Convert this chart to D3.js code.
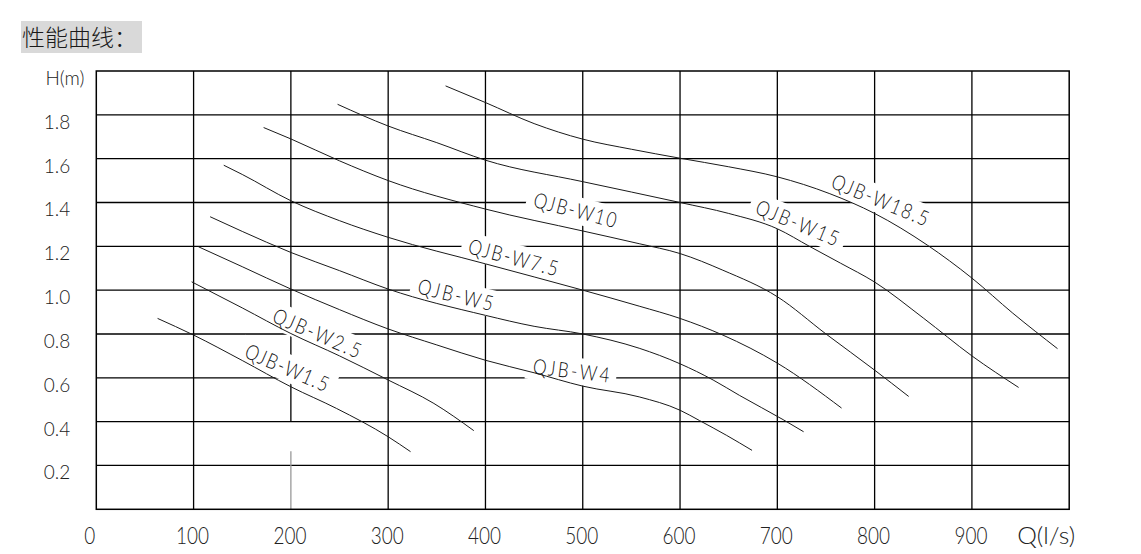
<!DOCTYPE html>
<html><head><meta charset="utf-8">
<script src="https://cdn.jsdelivr.net/npm/d3@7/dist/d3.min.js"></script>
<style>body{margin:0;background:#fff;}svg{display:block;}</style>
</head><body>
<svg id="chart" width="1141" height="554"></svg>
<script>
// ---------- data ----------
const title = "性能曲线：";
const models = ["QJB-W1.5","QJB-W2.5","QJB-W4","QJB-W5","QJB-W7.5","QJB-W10","QJB-W15","QJB-W18.5"];

const qW1_5  = [63,100,150,200,247,300,323];
const hW1_5  = [0.871,0.795,0.679,0.559,0.46,0.331,0.263];
const qW2_5  = [98,150,200,250,300,347,388];
const hW2_5  = [1.038,0.919,0.802,0.70,0.59,0.483,0.359];
const qW4    = [105,150,200,250,300,350,400,450,500,558,600,620,648,674];
const hW4    = [1.198,1.107,1.005,0.911,0.823,0.75,0.68,0.623,0.562,0.513,0.452,0.405,0.337,0.269];
const qW5    = [117,150,200,250,300,400,450,500,558,600,634,661,706,727];
const hW5    = [1.335,1.268,1.172,1.089,1.005,0.885,0.835,0.80,0.735,0.664,0.59,0.52,0.409,0.354];
const qW7_5  = [131,150,200,250,300,400,500,558,600,644,700,766];
const hW7_5  = [1.57,1.528,1.408,1.317,1.241,1.12,1.0,0.927,0.871,0.795,0.667,0.462];
const qW10   = [172,200,250,300,400,500,558,600,644,700,750,800,835];
const hW10   = [1.742,1.69,1.59,1.50,1.37,1.27,1.212,1.167,1.091,0.97,0.80,0.635,0.515];
const qW15   = [248,300,350,400,500,600,650,700,733,765,800,850,900,948];
const hW15   = [1.848,1.749,1.673,1.593,1.495,1.40,1.35,1.28,1.20,1.123,1.037,0.873,0.70,0.556];
const qW18_5 = [359,400,450,500,550,600,650,700,754,800,854,900,942,988];
const hW18_5 = [1.932,1.856,1.76,1.689,1.643,1.602,1.563,1.517,1.44,1.35,1.206,1.055,0.895,0.733];

const seriesQ = [qW1_5,qW2_5,qW4,qW5,qW7_5,qW10,qW15,qW18_5];
const seriesH = [hW1_5,hW2_5,hW4,hW5,hW7_5,hW10,hW15,hW18_5];

const xTickValues = [0,100,200,300,400,500,600,700,800,900];
const yTickValues = [0.2,0.4,0.6,0.8,1.0,1.2,1.4,1.6,1.8];
const xTitle = "Q(l/s)";
const yTitle = "H(m)";

// label anchors along the curves (data units) and their slant
const labelQ     = [151,179.5,448,329,381,448,676,754];
const labelH     = [0.696,0.858,0.62,0.987,1.169,1.382,1.352,1.470];
const labelAngle = [23.5,23.5,6.9,13.7,14.6,14.7,22.4,22.5];
const labelLen   = [89,94,77,77,92,85,88,103];

// ---------- layout ----------
const svg = d3.select("#chart");
const x = d3.scaleLinear().domain([0,1000]).range([96.3,1069.2]);
const y = d3.scaleLinear().domain([0,2]).range([509.3,71]);
const FONT = "Lato, Roboto, 'DejaVu Sans', sans-serif";
const NARROW = 0.82;

// title
svg.append("rect").attr("x",21).attr("y",21).attr("width",121).attr("height",32).attr("fill","#d9d9d9");
svg.append("text").attr("x",22).attr("y",46).text(title)
  .attr("font-family","'Noto Sans CJK SC', sans-serif").attr("font-weight",300)
  .attr("font-size",23).attr("fill","#1a1a1a");

// grid
const grid = svg.append("g").attr("stroke","#000").attr("stroke-width",1.3);
yTickValues.forEach(v=>{
  grid.append("line").attr("x1",x(0)).attr("x2",x(1000)).attr("y1",y(v)).attr("y2",y(v));
});
xTickValues.filter(v=>v>0).forEach(v=>{
  if (v===200){
    grid.append("line").attr("x1",x(v)).attr("x2",x(v)).attr("y1",y(2)).attr("y2",y(0.4));
    grid.append("line").attr("x1",x(v)).attr("x2",x(v)).attr("y1",y(0.265)).attr("y2",y(0)).attr("stroke","#999");
  } else {
    grid.append("line").attr("x1",x(v)).attr("x2",x(v)).attr("y1",y(2)).attr("y2",y(0));
  }
});
svg.append("rect").attr("x",x(0)).attr("y",y(2)).attr("width",x(1000)-x(0)).attr("height",y(0)-y(2))
  .attr("fill","none").attr("stroke","#000").attr("stroke-width",1.5);

// label masks (cut the grid around each label)
const labelG = models.map((m,i)=>({m,i}));
const place = d=>`translate(${x(labelQ[d.i])},${y(labelH[d.i])}) rotate(${labelAngle[d.i]})`;
svg.append("g").selectAll("rect").data(labelG).join("rect")
  .attr("transform",place)
  .attr("x",-7).attr("y",-21).attr("width",d=>labelLen[d.i]+14).attr("height",27)
  .attr("fill","#fff");

// curves
const line = d3.line().x(d=>x(d[0])).y(d=>y(d[1])).curve(d3.curveMonotoneX);
svg.append("g").selectAll("path").data(seriesQ.map((q,i)=>q.map((v,j)=>[v,seriesH[i][j]]))).join("path")
  .attr("d",line).attr("fill","none").attr("stroke","#1a1a1a").attr("stroke-width",1);

// curve labels
svg.append("g").selectAll("text").data(labelG).join("text")
  .attr("transform",d=>place(d)+` scale(${NARROW},1)`)
  .attr("textLength",d=>labelLen[d.i]/NARROW).attr("lengthAdjust","spacing")
  .attr("font-family",FONT).attr("font-weight",300).attr("font-size",21).attr("fill","#111")
  .text(d=>d.m);

// axes (text only)
const xAxis = svg.append("g").attr("transform",`translate(0,${y(0)})`)
  .call(d3.axisBottom(x).tickValues(xTickValues).tickSize(0).tickPadding(18).tickFormat(d3.format("d")));
xAxis.select(".domain").remove();
xAxis.selectAll("text").attr("font-family",FONT).attr("font-weight",300).attr("font-size",23.5)
  .attr("fill","#222").attr("textLength",d=>String(d).length*11).attr("lengthAdjust","spacingAndGlyphs")
  .attr("dx",d=>d===0?-7:-1.5);

const yAxis = svg.append("g").attr("transform",`translate(${x(0)},0)`)
  .call(d3.axisLeft(y).tickValues(yTickValues).tickSize(0).tickPadding(26).tickFormat(d3.format(".1f")));
yAxis.select(".domain").remove();
yAxis.selectAll("text").attr("font-family",FONT).attr("font-weight",300).attr("font-size",19)
  .attr("fill","#222").attr("dy","0.71em");

svg.append("text").attr("x",45.5).attr("y",y(2)+14).text(yTitle)
  .attr("font-family",FONT).attr("font-weight",300).attr("font-size",19).attr("fill","#222");
svg.append("text").attr("x",x(1000)+6).attr("y",y(0)+34.5).attr("text-anchor","end").text(xTitle)
  .attr("font-family",FONT).attr("font-weight",300).attr("font-size",23.5).attr("fill","#222")
  .attr("textLength",58).attr("lengthAdjust","spacingAndGlyphs");
</script>
</body></html>
